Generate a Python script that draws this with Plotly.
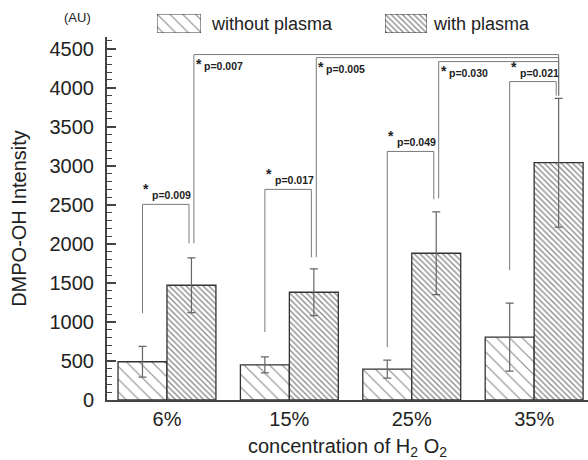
import plotly.graph_objects as go

categories = ["6%", "15%", "25%", "35%"]
without_plasma = [490, 450, 395, 805]
without_err = [198, 103, 115, 435]
with_plasma = [1470, 1380, 1880, 3040]
with_err = [350, 300, 530, 825]

# significance brackets: (group,series) left, (group,series) right, top level, left end, right end, label
br_left = [(0, 0), (1, 0), (2, 0), (3, 0), (2, 1), (1, 1), (0, 1)]
br_right = [(0, 1), (1, 1), (2, 1), (3, 1), (3, 1), (3, 1), (3, 1)]
br_top = [2506, 2698, 3184, 4079, 4335, 4386, 4425]
br_left_end = [1113, 870, 678, 1662, 2583, 1829, 2008]
br_right_end = [2008, 1829, 2570, 3900, 3900, 3900, 3900]
br_label = ["p=0.009", "p=0.017", "p=0.049", "p=0.021", "p=0.030", "p=0.005", "p=0.007"]

W, H = 588, 460
ML, MR, MT, MB = 107, 0, 5, 60
PW, PH = W - ML - MR, H - MT - MB
plot_top_px = 37  # top of y-axis line


def py(px):
    return (H - MB - px) / PH


def pxx(px):
    return (px - ML) / PW


FONT = "Liberation Sans, Arial, sans-serif"
EDGE = "#333333"
HATCH = "#111111"

fig = go.Figure()
x = list(range(len(categories)))
fig.add_trace(go.Bar(
    x=x, y=without_plasma, name="without plasma",
    marker=dict(color="white", line=dict(color=EDGE, width=1.3),
                pattern=dict(shape="\\", size=9, solidity=0.12, fgcolor=HATCH, bgcolor="white")),
    error_y=dict(type="data", array=without_err, color="#666", thickness=1.2, width=4),
    showlegend=False))
fig.add_trace(go.Bar(
    x=x, y=with_plasma, name="with plasma",
    marker=dict(color="white", line=dict(color=EDGE, width=1.3),
                pattern=dict(shape="\\", size=4, solidity=0.33, fgcolor=HATCH, bgcolor="white")),
    error_y=dict(type="data", array=with_err, color="#666", thickness=1.2, width=4),
    showlegend=False))

# legend boxes drawn as tiny bar subplots
leg_boxes = [((157, 201), 9, 0.12), ((385, 427), 4, 0.33)]
for i, ((x0, x1), sz, sol) in enumerate(leg_boxes):
    ax = i + 2
    fig.add_trace(go.Bar(x=[0], y=[1], width=[1], offset=[-0.5],
                         xaxis=f"x{ax}", yaxis=f"y{ax}", showlegend=False, hoverinfo="skip",
                         marker=dict(color="white", line=dict(color=EDGE, width=1),
                                     pattern=dict(shape="\\", size=sz, solidity=sol,
                                                  fgcolor=HATCH, bgcolor="white"))))
    fig.update_layout(**{
        f"xaxis{ax}": dict(domain=[pxx(x0), pxx(x1)], range=[-0.5, 0.5], visible=False,
                           anchor=f"y{ax}", fixedrange=True),
        f"yaxis{ax}": dict(domain=[py(33), py(14)], range=[0, 1], visible=False,
                           anchor=f"x{ax}", fixedrange=True),
    })

annotations = []
annotations.append(dict(x=pxx(209), y=py(24), xref="paper", yref="paper", text="without plasma",
                        xanchor="left", yanchor="middle", showarrow=False,
                        font=dict(family=FONT, size=18, color="#222")))
annotations.append(dict(x=pxx(431), y=py(24), xref="paper", yref="paper", text="with plasma",
                        xanchor="left", yanchor="middle", showarrow=False,
                        font=dict(family=FONT, size=18, color="#222")))
annotations.append(dict(x=pxx(77), y=py(18), xref="paper", yref="paper", text="(AU)",
                        xanchor="center", yanchor="middle", showarrow=False,
                        font=dict(family=FONT, size=13, color="#222")))

shapes = []


def bar_x(g, s):
    return g + (-0.2 if s == 0 else 0.2)


for (gl, sl), (gr, sr), top, le, re, lab in zip(br_left, br_right, br_top, br_left_end,
                                               br_right_end, br_label):
    xl = bar_x(gl, sl) + (0.02 if sl == 1 else 0.0)
    xr = bar_x(gr, sr) - (0.02 if gr == gl else 0.0)
    shapes.append(dict(type="path", xref="x", yref="y",
                       path=f"M {xl},{le} L {xl},{top} L {xr},{top} L {xr},{re}",
                       line=dict(color="#7a7a7a", width=1)))
    if gl == gr:
        annotations.append(dict(x=xl, y=top, xref="x", yref="y", text="<b>*</b>", xanchor="left",
                                yanchor="bottom", xshift=-1, yshift=5, showarrow=False,
                                font=dict(family=FONT, size=14, color="#222")))
        annotations.append(dict(x=xl, y=top, xref="x", yref="y", text=f"<b>{lab}</b>",
                                xanchor="left", yanchor="bottom", xshift=8, yshift=1,
                                showarrow=False, font=dict(family=FONT, size=10.5, color="#222")))
    else:
        annotations.append(dict(x=xl, y=top, xref="x", yref="y", text="<b>*</b>", xanchor="left",
                                yanchor="top", xshift=0, yshift=1, showarrow=False,
                                font=dict(family=FONT, size=14, color="#222")))
        annotations.append(dict(x=xl, y=top, xref="x", yref="y", text=f"<b>{lab}</b>",
                                xanchor="left", yanchor="top", xshift=8, yshift=-3,
                                showarrow=False, font=dict(family=FONT, size=10.5, color="#222")))

fig.update_layout(
    width=W, height=H,
    margin=dict(l=ML, r=MR, t=MT, b=MB, pad=0, autoexpand=False),
    paper_bgcolor="white", plot_bgcolor="white",
    barmode="group", bargap=0.2, bargroupgap=0,
    showlegend=False,
    shapes=shapes, annotations=annotations,
    xaxis=dict(range=[-0.49, 3.44], tickvals=x, ticktext=categories, showline=True,
               linecolor="#444", linewidth=2, ticks="", showgrid=False, zeroline=False,
               automargin=False,
               tickfont=dict(family=FONT, size=20, color="#222"),
               title=dict(text="concentration of H<sub>2</sub> O<sub>2</sub>",
                          font=dict(family=FONT, size=20, color="#222"), standoff=12)),
    yaxis=dict(domain=[0, py(plot_top_px)], range=[0, 4650], dtick=500, tick0=0,
               showline=True, linecolor="#444", linewidth=2, automargin=False,
               ticks="inside", ticklen=9, tickwidth=1.5, tickcolor="#444",
               ticklabelstandoff=7,
               minor=dict(dtick=100, ticks="inside", ticklen=5, tickwidth=1, tickcolor="#444"),
               showgrid=False, zeroline=False,
               tickfont=dict(family=FONT, size=20, color="#222"),
               title=dict(text="DMPO-OH Intensity", font=dict(family=FONT, size=20, color="#222"),
                          standoff=18)),
)

fig.write_html("out.html", config={"displayModeBar": False},
               post_script="document.body.style.margin='0';document.body.style.overflow='hidden';")
